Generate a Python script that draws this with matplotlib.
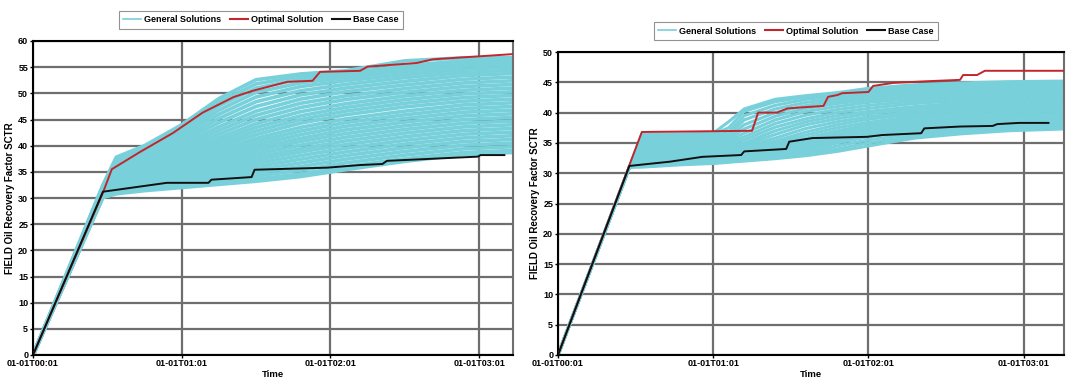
import matplotlib
matplotlib.use("Agg")
import matplotlib.pyplot as plt

# ------------------------------------------------------------
# Data (time in hours since 01-01T00:01)
# ------------------------------------------------------------
x_tick_pos = [0, 1, 2, 3]
x_tick_labels = ["01-01T00:01", "01-01T01:01", "01-01T02:01", "01-01T03:01"]

# ---- left panel ----
t_left = [0, 0.47, 0.56, 0.75, 1.0, 1.25, 1.5, 1.8, 2.1, 2.5, 2.9, 3.23]
general_left = [
    [0, 32.5, 37.8, 40.0, 44.0, 49.0, 52.6, 53.7, 54.3, 56.2, 56.8, 56.8],
    [0, 32.3, 37.3, 39.6, 43.5, 48.3, 51.8, 53.3, 53.8, 55.3, 56.2, 56.5],
    [0, 32.1, 36.8, 39.2, 43.0, 47.6, 51.0, 52.7, 53.5, 54.8, 55.7, 56.1],
    [0, 32.0, 36.4, 38.8, 42.4, 46.8, 50.2, 52.0, 53.0, 54.2, 55.2, 55.6],
    [0, 31.8, 36.0, 38.4, 41.9, 46.0, 49.3, 51.3, 52.4, 53.6, 54.6, 55.0],
    [0, 31.7, 35.6, 38.0, 41.3, 45.2, 48.4, 50.5, 51.7, 53.0, 54.0, 54.4],
    [0, 31.6, 35.3, 37.6, 40.8, 44.4, 47.5, 49.7, 51.0, 52.3, 53.4, 53.8],
    [0, 31.5, 35.0, 37.2, 40.2, 43.6, 46.6, 48.9, 50.3, 51.6, 52.7, 53.1],
    [0, 31.4, 34.7, 36.9, 39.7, 42.9, 45.8, 48.1, 49.5, 50.9, 52.0, 52.4],
    [0, 31.3, 34.4, 36.5, 39.2, 42.2, 45.0, 47.3, 48.8, 50.2, 51.3, 51.7],
    [0, 31.2, 34.1, 36.1, 38.7, 41.5, 44.2, 46.5, 48.0, 49.5, 50.6, 51.0],
    [0, 31.1, 33.9, 35.8, 38.2, 40.9, 43.5, 45.7, 47.3, 48.8, 49.9, 50.3],
    [0, 31.0, 33.6, 35.5, 37.8, 40.3, 42.8, 45.0, 46.6, 48.1, 49.2, 49.6],
    [0, 30.9, 33.4, 35.2, 37.4, 39.8, 42.1, 44.3, 45.9, 47.4, 48.5, 48.9],
    [0, 30.9, 33.2, 34.9, 37.0, 39.2, 41.4, 43.5, 45.1, 46.6, 47.8, 48.2],
    [0, 30.8, 33.0, 34.6, 36.6, 38.7, 40.8, 42.8, 44.4, 45.9, 47.1, 47.5],
    [0, 30.7, 32.8, 34.3, 36.2, 38.2, 40.2, 42.1, 43.7, 45.2, 46.4, 46.8],
    [0, 30.7, 32.6, 34.0, 35.8, 37.7, 39.6, 41.4, 43.0, 44.5, 45.7, 46.1],
    [0, 30.6, 32.4, 33.8, 35.4, 37.2, 39.0, 40.8, 42.3, 43.8, 45.0, 45.4],
    [0, 30.6, 32.2, 33.5, 35.0, 36.7, 38.4, 40.1, 41.6, 43.1, 44.3, 44.7],
    [0, 30.5, 32.0, 33.2, 34.6, 36.2, 37.8, 39.4, 40.9, 42.4, 43.6, 44.0],
    [0, 30.5, 31.8, 33.0, 34.3, 35.7, 37.2, 38.8, 40.2, 41.7, 42.9, 43.3],
    [0, 30.4, 31.6, 32.7, 33.9, 35.2, 36.6, 38.1, 39.5, 41.0, 42.2, 42.6],
    [0, 30.4, 31.5, 32.5, 33.6, 34.8, 36.0, 37.4, 38.8, 40.3, 41.5, 41.9],
    [0, 30.3, 31.3, 32.3, 33.3, 34.3, 35.4, 36.7, 38.1, 39.6, 40.8, 41.2],
    [0, 30.3, 31.2, 32.1, 33.0, 33.9, 34.8, 36.0, 37.4, 38.9, 40.1, 40.5],
    [0, 30.2, 31.0, 31.8, 32.6, 33.4, 34.2, 35.3, 36.7, 38.2, 39.4, 39.8],
    [0, 30.2, 30.9, 31.6, 32.3, 33.0, 33.6, 34.6, 36.0, 37.5, 38.7, 39.1],
    [0, 30.1, 30.8, 31.4, 32.0, 32.6, 33.2, 34.1, 35.4, 37.0, 38.3, 38.7],
]
opt_left_t = [0, 0.47, 0.53, 0.72, 0.94, 1.14, 1.35, 1.48, 1.71, 1.88, 1.93,
              2.20, 2.25, 2.58, 2.69, 2.96, 3.23]
opt_left_v = [0, 31.0, 35.5, 38.8, 42.4, 46.3, 49.3, 50.5, 52.2, 52.4, 54.1,
              54.3, 55.1, 55.8, 56.5, 57.0, 57.5]
base_left_t = [0, 0.47, 0.90, 1.18, 1.20, 1.47, 1.49, 1.98, 2.20, 2.35, 2.38,
               2.99, 3.01, 3.17]
base_left_v = [0, 31.2, 32.9, 32.9, 33.5, 34.0, 35.4, 35.8, 36.3, 36.5, 37.1,
               37.9, 38.2, 38.2]

# ---- right panel ----
t_right = [0, 0.46, 0.54, 0.8, 1.0, 1.1, 1.2, 1.4, 1.6, 1.8, 2.0, 2.3, 2.6, 2.9, 3.26]
general_right = [
    [0, 31, 36.4, 36.5, 36.6, 38.5, 40.6, 42.2, 42.8, 43.3, 44.0, 44.6, 44.9, 45.1, 45.2],
    [0, 31, 36.2, 36.3, 36.4, 37.5, 40.2, 41.8, 42.6, 43.0, 43.6, 44.2, 44.6, 44.9, 45.0],
    [0, 31, 35.8, 35.9, 36.1, 36.8, 39.5, 41.2, 42.2, 42.7, 43.3, 43.9, 44.3, 44.6, 44.8],
    [0, 31, 35.5, 35.6, 35.8, 36.3, 38.8, 40.6, 41.7, 42.3, 42.9, 43.5, 43.9, 44.2, 44.5],
    [0, 31, 35.2, 35.3, 35.5, 36.0, 38.0, 40.0, 41.2, 41.9, 42.5, 43.1, 43.6, 43.9, 44.2],
    [0, 31, 34.9, 35.0, 35.2, 35.7, 37.3, 39.4, 40.7, 41.5, 42.1, 42.7, 43.2, 43.6, 43.8],
    [0, 31, 34.6, 34.7, 34.9, 35.4, 36.6, 38.8, 40.2, 41.0, 41.7, 42.3, 42.8, 43.2, 43.5],
    [0, 31, 34.3, 34.4, 34.6, 35.1, 36.0, 38.2, 39.6, 40.5, 41.2, 41.9, 42.4, 42.8, 43.1],
    [0, 31, 34.0, 34.1, 34.3, 34.8, 35.5, 37.6, 39.0, 40.0, 40.7, 41.5, 42.0, 42.4, 42.7],
    [0, 31, 33.7, 33.8, 34.0, 34.5, 35.0, 37.0, 38.5, 39.5, 40.2, 41.0, 41.6, 42.0, 42.3],
    [0, 31, 33.4, 33.5, 33.7, 34.2, 34.7, 36.4, 38.0, 39.0, 39.8, 40.6, 41.2, 41.6, 41.9],
    [0, 31, 33.1, 33.2, 33.4, 33.9, 34.4, 35.8, 37.4, 38.5, 39.3, 40.2, 40.8, 41.2, 41.5],
    [0, 31, 32.8, 32.9, 33.1, 33.6, 34.1, 35.3, 36.8, 38.0, 38.9, 39.8, 40.4, 40.8, 41.1],
    [0, 31, 32.6, 32.7, 32.9, 33.3, 33.8, 34.9, 36.3, 37.5, 38.4, 39.4, 40.0, 40.4, 40.7],
    [0, 31, 32.4, 32.5, 32.7, 33.0, 33.5, 34.5, 35.8, 37.0, 38.0, 39.0, 39.6, 40.0, 40.3],
    [0, 31, 32.2, 32.3, 32.5, 32.8, 33.2, 34.2, 35.4, 36.6, 37.6, 38.6, 39.2, 39.6, 39.9],
    [0, 31, 32.0, 32.1, 32.3, 32.6, 33.0, 33.9, 35.0, 36.2, 37.2, 38.2, 38.9, 39.3, 39.6],
    [0, 31, 31.8, 32.0, 32.2, 32.4, 32.8, 33.6, 34.6, 35.8, 36.8, 37.8, 38.5, 38.9, 39.2],
    [0, 31, 31.6, 31.8, 32.0, 32.2, 32.6, 33.3, 34.2, 35.4, 36.4, 37.4, 38.1, 38.5, 38.8],
    [0, 31, 31.4, 31.7, 31.9, 32.1, 32.4, 33.0, 33.8, 35.0, 36.0, 37.0, 37.7, 38.1, 38.4],
    [0, 31, 31.2, 31.6, 31.8, 32.0, 32.2, 32.7, 33.4, 34.5, 35.5, 36.6, 37.3, 37.7, 38.0],
    [0, 31, 31.1, 31.5, 31.7, 31.9, 32.1, 32.5, 33.1, 34.0, 35.0, 36.2, 36.9, 37.3, 37.6],
    [0, 31, 31.0, 31.4, 31.6, 31.8, 32.0, 32.4, 32.9, 33.6, 34.5, 35.8, 36.5, 37.0, 37.3],
]
opt_right_t = [0, 0.54, 1.25, 1.29, 1.41, 1.48, 1.71, 1.74, 1.80, 1.83, 2.00, 2.03,
               2.16, 2.40, 2.59, 2.61, 2.70, 2.75, 3.26]
opt_right_v = [0, 36.8, 37.0, 40.0, 40.0, 40.7, 41.1, 42.6, 42.9, 43.2, 43.4, 44.4,
               44.9, 45.2, 45.4, 46.2, 46.2, 46.9, 46.9]
base_right_t = [0, 0.46, 0.72, 0.93, 1.18, 1.20, 1.47, 1.49, 1.64, 1.99, 2.09, 2.34,
                2.36, 2.59, 2.80, 2.83, 2.97, 3.16]
base_right_v = [0, 31.2, 31.9, 32.7, 33.0, 33.6, 34.0, 35.2, 35.8, 36.0, 36.3, 36.6,
                37.4, 37.7, 37.8, 38.1, 38.3, 38.3]

# ------------------------------------------------------------
# Style
# ------------------------------------------------------------
plt.rcParams["font.family"] = ["Liberation Sans", "DejaVu Sans"]
plt.rcParams["font.weight"] = "bold"

c_gen = "#78d0da"
c_opt = "#c0272d"
c_base = "#111111"
c_grid = "#6e6e6e"

fig = plt.figure(figsize=(10.66, 3.8), dpi=100)


def dibujar(ax, t, generales, opt_t, opt_v, base_t, base_v, ymax, xmax, lw_gen):
    for serie in generales:
        ax.plot(t, serie, color=c_gen, lw=lw_gen, zorder=2)
    ax.plot(opt_t, opt_v, color=c_opt, lw=1.4, zorder=3)
    ax.plot(base_t, base_v, color=c_base, lw=1.4, zorder=4)

    ax.set_xlim(0, xmax)
    ax.set_ylim(0, ymax)
    ax.set_yticks(range(0, ymax + 1, 5))
    ax.set_xticks(x_tick_pos)
    ax.set_xticklabels(x_tick_labels)
    ax.tick_params(labelsize=6.5, length=2.5, width=1, pad=1)
    ax.tick_params(axis="x", pad=0.5)
    for lab in ax.get_xticklabels() + ax.get_yticklabels():
        lab.set_fontweight("bold")
    ax.grid(True, color=c_grid, lw=1.6, zorder=0)
    ax.set_axisbelow(True)
    for lado in ["left", "bottom", "top"]:
        ax.spines[lado].set_color("black")
        ax.spines[lado].set_linewidth(1.5)
    ax.spines["right"].set_color(c_grid)
    ax.spines["right"].set_linewidth(1.5)
    ax.set_xlabel("Time", fontsize=6.8, fontweight="bold", labelpad=1)
    ax.set_ylabel("FIELD Oil Recovery Factor SCTR", fontsize=7, fontweight="bold",
                  labelpad=2)

    h1, = ax.plot([], [], color=c_gen, lw=1.2)
    h2, = ax.plot([], [], color=c_opt, lw=1.5)
    h3, = ax.plot([], [], color=c_base, lw=1.5)
    return [h1, h2, h3]


nombres = ["General Solutions", "Optimal Solution", "Base Case"]

ax1 = fig.add_axes([33 / 1066, 1 - 355 / 380, 480 / 1066, 314 / 380])
hs = dibujar(ax1, t_left, general_left, opt_left_t, opt_left_v,
             base_left_t, base_left_v, 60, 3.228, 2.6)
leg = ax1.legend(hs, nombres, loc="center", bbox_to_anchor=(261 / 1066, 1 - 20 / 380),
                 bbox_transform=fig.transFigure, ncol=3, fontsize=6.5,
                 handlelength=2.0, handletextpad=0.3, columnspacing=1.0,
                 frameon=True, fancybox=False, borderpad=0.5)
leg.get_frame().set_edgecolor("#777777")
leg.get_frame().set_linewidth(0.8)

ax2 = fig.add_axes([558 / 1066, 1 - 355 / 380, 506 / 1066, 303 / 380])
hs = dibujar(ax2, t_right, general_right, opt_right_t, opt_right_v,
             base_right_t, base_right_v, 50, 3.26, 2.2)
leg = ax2.legend(hs, nombres, loc="center", bbox_to_anchor=(796 / 1066, 1 - 31 / 380),
                 bbox_transform=fig.transFigure, ncol=3, fontsize=6.5,
                 handlelength=2.0, handletextpad=0.3, columnspacing=1.0,
                 frameon=True, fancybox=False, borderpad=0.5)
leg.get_frame().set_edgecolor("#777777")
leg.get_frame().set_linewidth(0.8)

fig.savefig("out.png", dpi=100)
